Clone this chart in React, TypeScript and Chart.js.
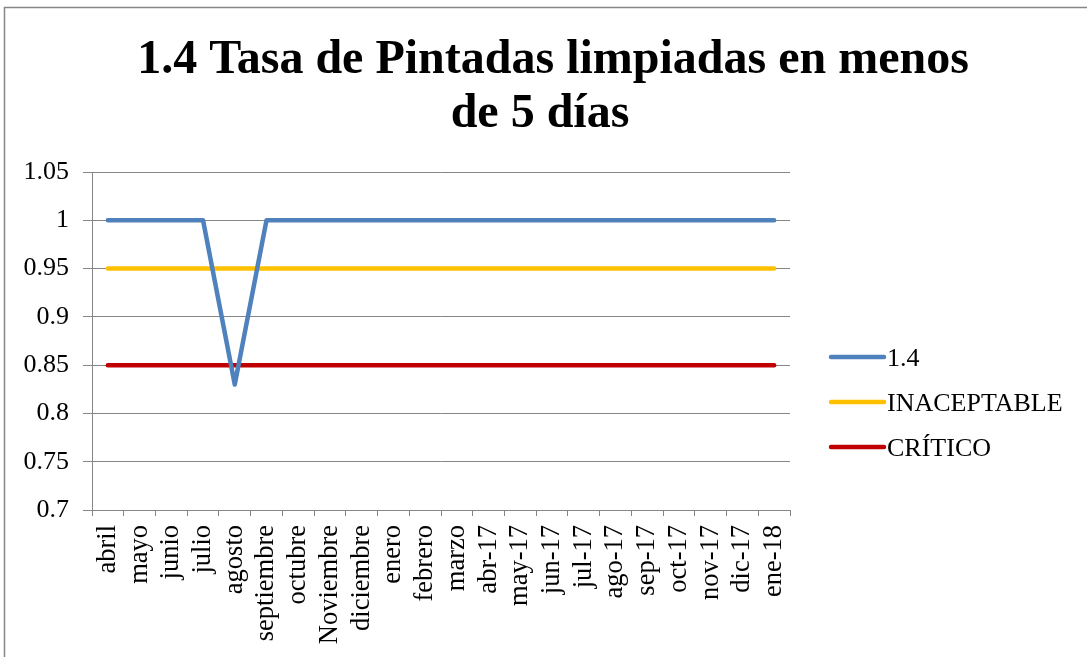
import React, { useEffect, useRef } from "react";
import { Chart, registerables } from "chart.js";

Chart.register(...registerables);

const categories = [
  "abril", "mayo", "junio", "julio", "agosto", "septiembre", "octubre", "Noviembre",
  "diciembre", "enero", "febrero", "marzo", "abr-17", "may-17", "jun-17", "jul-17",
  "ago-17", "sep-17", "oct-17", "nov-17", "dic-17", "ene-18",
];
const serie14 = [1, 1, 1, 1, 0.83, 1, 1, 1, 1, 1, 1, 1, 1, 1, 1, 1, 1, 1, 1, 1, 1, 1];
const inaceptable = [0.95, 0.95, 0.95, 0.95, 0.95, 0.95, 0.95, 0.95, 0.95, 0.95, 0.95, 0.95, 0.95, 0.95, 0.95, 0.95, 0.95, 0.95, 0.95, 0.95, 0.95, 0.95];
const critico = [0.85, 0.85, 0.85, 0.85, 0.85, 0.85, 0.85, 0.85, 0.85, 0.85, 0.85, 0.85, 0.85, 0.85, 0.85, 0.85, 0.85, 0.85, 0.85, 0.85, 0.85, 0.85];
const seriesLabels = ["1.4", "INACEPTABLE", "CRÍTICO"];
const seriesColors = ["#4F81BD", "#FFC000", "#C00000"];
const titleLines = ["1.4 Tasa de Pintadas limpiadas en menos", "de 5 días"];
const yMin = 0.7;
const yMax = 1.05;
const yStep = 0.05;

const FONT = "'Liberation Serif', 'Times New Roman', serif";
const GRID = "#868686";

const framePlugin = {
  id: "frame",
  beforeDraw(chart: any) {
    const ctx = chart.ctx;
    ctx.save();
    ctx.fillStyle = "#ffffff";
    ctx.fillRect(0, 0, chart.width, chart.height);
    ctx.strokeStyle = GRID;
    ctx.lineWidth = 1.5;
    ctx.strokeRect(4.5, 7.5, chart.width + 20, chart.height + 20);
    ctx.restore();
  },
};

const titlePlugin = {
  id: "twoLineTitle",
  afterDraw(chart: any) {
    const ctx = chart.ctx;
    ctx.save();
    ctx.fillStyle = "#000000";
    ctx.font = `bold 48px ${FONT}`;
    ctx.textAlign = "center";
    ctx.textBaseline = "alphabetic";
    ctx.fillText(titleLines[0], 553, 73);
    ctx.fillText(titleLines[1], 540, 127);
    ctx.restore();
  },
};

const legendPlugin = {
  id: "sideLegend",
  afterDraw(chart: any) {
    const ctx = chart.ctx;
    ctx.save();
    const ys = [357, 402, 447];
    chart.data.datasets.forEach((ds: any, i: number) => {
      const y = ys[i];
      ctx.strokeStyle = ds.borderColor;
      ctx.lineWidth = 4.5;
      ctx.lineCap = "round";
      ctx.beginPath();
      ctx.moveTo(831, y);
      ctx.lineTo(884, y);
      ctx.stroke();
      ctx.fillStyle = "#000000";
      ctx.font = `26px ${FONT}`;
      ctx.textAlign = "left";
      ctx.textBaseline = "middle";
      ctx.fillText(ds.label, 887, y + 2);
    });
    ctx.restore();
  },
};

export default function App() {
  const canvasRef = useRef<HTMLCanvasElement | null>(null);

  useEffect(() => {
    const canvas = canvasRef.current;
    if (!canvas) return;
    const values = [serie14, inaceptable, critico];
    const chart = new Chart(canvas, {
      type: "line",
      data: {
        labels: categories,
        datasets: values.map((v, i) => ({
          label: seriesLabels[i],
          data: v,
          borderColor: seriesColors[i],
          backgroundColor: seriesColors[i],
          borderWidth: 4.5,
          pointRadius: 0,
          tension: 0,
          borderCapStyle: "round" as const,
          borderJoinStyle: "round" as const,
          fill: false,
        })),
      },
      options: {
        animation: false,
        responsive: false,
        devicePixelRatio: 1,
        layout: { padding: { top: 172, right: 297, left: 0, bottom: 0 } },
        plugins: {
          legend: { display: false },
          title: { display: false },
          tooltip: { enabled: false },
        },
        scales: {
          x: {
            type: "category",
            offset: true,
            grid: {
              offset: true,
              drawOnChartArea: false,
              drawTicks: true,
              tickLength: 6,
              color: GRID,
              lineWidth: 1,
            },
            border: { color: GRID, width: 1 },
            ticks: {
              autoSkip: false,
              maxRotation: 90,
              minRotation: 90,
              padding: 9,
              color: "#000000",
              font: { family: FONT, size: 26.5 },
            },
            afterFit(scale: any) {
              scale.height = 147;
            },
          },
          y: {
            min: yMin,
            max: yMax,
            grid: {
              color: GRID,
              lineWidth: 1,
              drawTicks: true,
              tickLength: 9,
            },
            border: { color: GRID, width: 1 },
            ticks: {
              stepSize: yStep,
              padding: 14,
              color: "#000000",
              font: { family: FONT, size: 26 },
              callback: (v: any) => String(Number(Number(v).toFixed(2))),
            },
            afterFit(scale: any) {
              scale.width = 92;
            },
          },
        },
      },
      plugins: [framePlugin, titlePlugin, legendPlugin],
    });
    return () => chart.destroy();
  }, []);

  return (
    <div style={{ position: "absolute", left: 0, top: 0, width: 1087, height: 657, background: "#fff" }}>
      <canvas ref={canvasRef} width={1087} height={657} style={{ display: "block" }} />
    </div>
  );
}
